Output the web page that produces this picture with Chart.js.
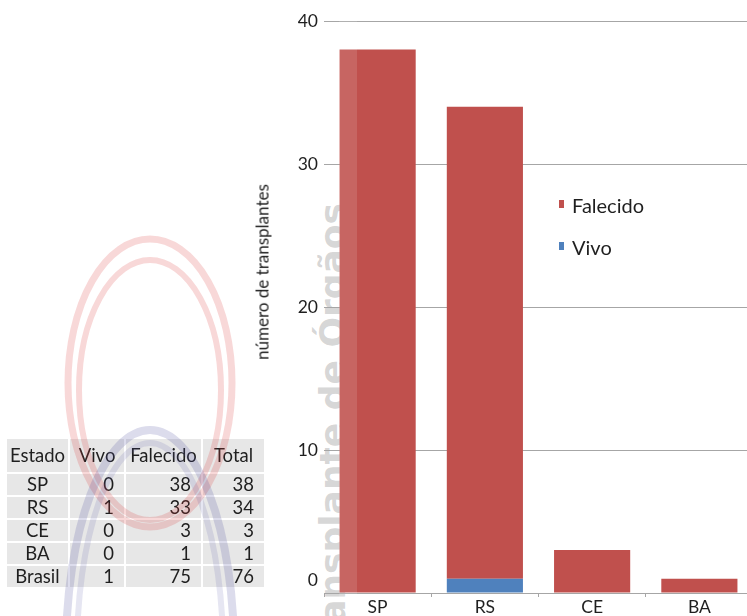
<!DOCTYPE html>
<html>
<head>
<meta charset="utf-8">
<script src="https://cdn.jsdelivr.net/npm/chart.js@4"></script>
<style>
  html, body { margin: 0; padding: 0; width: 747px; height: 616px; overflow: hidden; background: #fff; font-family: Lato, "Open Sans", sans-serif; color: #1f1f1f; }
  #wrap { position: absolute; left: 0; top: 0; width: 760px; height: 616px; z-index: 1; }
  #mark { position: absolute; left: 0; top: 0; z-index: 0; }
  #rings { position: absolute; left: 0; top: 0; z-index: 3; pointer-events: none; }
  #strip { position: absolute; left: 339px; top: 0; width: 18px; height: 600px; background: rgba(255,255,255,0.12); z-index: 2; }
  #ytitle { position: absolute; left: 262px; top: 272px; transform: translate(-50%, -50%) rotate(-90deg); font-size: 17px; white-space: nowrap; z-index: 2; }
  #legend { position: absolute; left: 559px; top: 195px; z-index: 2; }
  .item { position: relative; height: 20px; line-height: 20px; font-size: 20px; margin-bottom: 22px; }
  .item i { position: absolute; left: 0; top: 5px; width: 5px; height: 8px; }
  .item span { position: absolute; left: 13px; top: 0; white-space: nowrap; }
  #tbl { position: absolute; left: 5px; top: 437px; border-collapse: separate; border-spacing: 2px; table-layout: fixed; width: 253px; font-size: 18.5px; z-index: 2; }
  #tbl td { background: #e7e7e7; box-sizing: border-box; height: 21px; padding: 0 10px 0 0; text-align: right; line-height: 21px; }
  #tbl tr:first-child td { height: 33px; text-align: center; padding: 0; }
  #tbl td.c { text-align: center; padding: 0; }
</style>
</head>
<body>
<svg id="mark" width="747" height="616">
  <text transform="translate(345,203) rotate(-90)" text-anchor="end" font-family="DejaVu Sans, sans-serif" font-weight="bold" font-size="36" fill="rgba(150,150,150,0.4)">Transplante de Órgãos</text>
</svg>
<div id="wrap"><canvas id="chart"></canvas></div>
<div id="strip"></div>
<div id="ytitle">número de transplantes</div>
<div id="legend"></div>
<table id="tbl"></table>
<svg id="rings" width="747" height="616">
  <ellipse cx="150" cy="383" rx="82" ry="144" fill="none" stroke="rgba(220,60,60,0.2)" stroke-width="7"/>
  <ellipse cx="150" cy="390" rx="71" ry="130" fill="none" stroke="rgba(220,60,60,0.2)" stroke-width="6"/>
  <ellipse cx="150" cy="650" rx="84" ry="220" fill="none" stroke="rgba(80,80,160,0.2)" stroke-width="8"/>
  <ellipse cx="150" cy="650" rx="73" ry="207" fill="none" stroke="rgba(80,80,160,0.14)" stroke-width="6"/>
</svg>
<script>
const estados = ['SP', 'RS', 'CE', 'BA'];
const vivo = [0, 1, 0, 0];
const falecido = [38, 33, 3, 1];
const yTicks = [0, 10, 20, 30, 40];

const corVivo = '#4f81bd';
const corFalecido = '#c0504d';

// table
const tbl = document.getElementById('tbl');
let html = '<colgroup><col style="width:61px"><col style="width:54px"><col style="width:75px"><col style="width:61px"></colgroup>';
html += '<tr><td>Estado</td><td>Vivo</td><td>Falecido</td><td>Total</td></tr>';
let sv = 0, sf = 0;
estados.forEach((e, i) => {
    sv += vivo[i]; sf += falecido[i];
    html += '<tr><td class="c">' + e + '</td><td>' + vivo[i] + '</td><td>' + falecido[i] + '</td><td>' + (vivo[i] + falecido[i]) + '</td></tr>';
});
html += '<tr><td class="c">Brasil</td><td>' + sv + '</td><td>' + sf + '</td><td>' + (sv + sf) + '</td></tr>';
tbl.innerHTML = html;

// legend (stacked: top series listed first)
const leg = document.getElementById('legend');
[['Falecido', corFalecido], ['Vivo', corVivo]].forEach(([n, c]) => {
    leg.innerHTML += '<div class="item"><i style="background:' + c + '"></i><span>' + n + '</span></div>';
});

const yLabels = {
    id: 'yLabels',
    afterDraw(chart) {
        const s = chart.scales.y, ctx = chart.ctx;
        ctx.save();
        ctx.font = '17.5px Lato';
        ctx.fillStyle = '#1f1f1f';
        ctx.textAlign = 'right';
        ctx.textBaseline = 'middle';
        s.ticks.forEach(t => {
            const y = s.getPixelForValue(t.value) - (t.value === s.min ? 13 : 0);
            ctx.fillText(String(t.value), chart.chartArea.left - 6, y);
        });
        ctx.restore();
    }
};

const ctx = document.getElementById('chart').getContext('2d');
new Chart(ctx, {
    type: 'bar',
    data: {
        labels: estados,
        datasets: [
            { label: 'Vivo', data: vivo, backgroundColor: corVivo },
            { label: 'Falecido', data: falecido, backgroundColor: corFalecido }
        ]
    },
    options: {
        responsive: true,
        maintainAspectRatio: false,
        animation: false,
        categoryPercentage: 1,
        barPercentage: 0.71,
        layout: { padding: { top: 21, right: 7, left: 0, bottom: 0 } },
        plugins: { legend: { display: false }, tooltip: { enabled: false } },
        scales: {
            x: {
                stacked: true,
                grid: { drawOnChartArea: false, drawTicks: true, tickLength: 4, color: '#a6a6a6' },
                border: { display: true, color: '#a6a6a6' },
                ticks: { font: { family: 'Lato', size: 17.5 }, color: '#1f1f1f', padding: 0 },
                afterFit(s) { s.height = 23; }
            },
            y: {
                stacked: true,
                min: yTicks[0],
                max: yTicks[yTicks.length - 1],
                ticks: { display: false, stepSize: yTicks[1] - yTicks[0] },
                grid: { color: '#a6a6a6', drawTicks: false },
                border: { display: false },
                afterFit(s) { s.width = 324; }
            }
        }
    },
    plugins: [yLabels]
});
</script>
</body>
</html>
